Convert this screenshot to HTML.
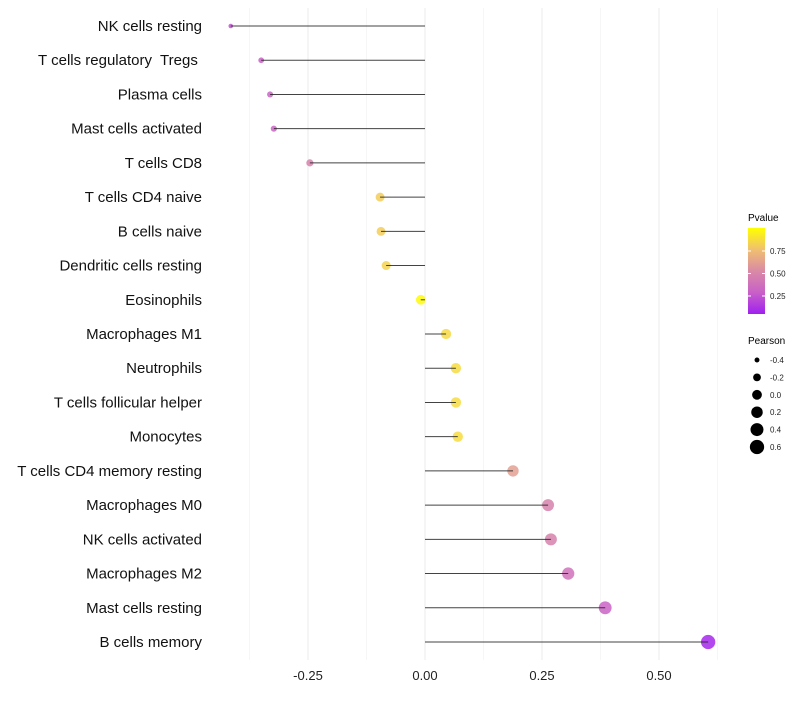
<!DOCTYPE html>
<html><head><meta charset="utf-8"><style>
body{margin:0;background:#fff;font-family:"Liberation Sans",Arial,sans-serif}
</style></head><body>
<svg id="chart" width="800" height="700" xmlns="http://www.w3.org/2000/svg">
<defs><linearGradient id="pg" x1="0" y1="1" x2="0" y2="0">
<stop offset="0" stop-color="#A020F0"/><stop offset="0.25" stop-color="#C860C8"/><stop offset="0.5" stop-color="#DA8AA5"/><stop offset="0.75" stop-color="#F0C070"/><stop offset="1" stop-color="#FFFF00"/></linearGradient></defs>
<g id="grid"></g><g id="dots"></g><g id="marks"></g><g id="labels"></g>
<g font-size="10">
<text x="748" y="221" font-size="10">Pvalue</text>
<rect x="748" y="228" width="17" height="86" fill="url(#pg)"/>
<g id="pticks"></g>
<text x="748" y="344" font-size="10">Pearson</text>
<g id="sizeleg"></g>
</g>
</svg>
<script>
const categories=["NK cells resting","T cells regulatory  Tregs ","Plasma cells","Mast cells activated","T cells CD8","T cells CD4 naive","B cells naive","Dendritic cells resting","Eosinophils","Macrophages M1","Neutrophils","T cells follicular helper","Monocytes","T cells CD4 memory resting","Macrophages M0","NK cells activated","Macrophages M2","Mast cells resting","B cells memory"];
const pearson=[-0.415,-0.35,-0.331,-0.323,-0.246,-0.096,-0.094,-0.083,-0.009,0.045,0.066,0.066,0.07,0.188,0.263,0.269,0.306,0.385,0.605];
const pvalues=[0.2,0.26,0.28,0.28,0.45,0.8,0.8,0.82,0.98,0.85,0.86,0.86,0.86,0.6,0.45,0.45,0.36,0.27,0.03];
const xTicks=[-0.25,0,0.25,0.5];
const xTickLabels=["-0.25","0.00","0.25","0.50"];
const pTicks=[0.25,0.5,0.75];
const pTickLabels=["0.25","0.50","0.75"];
const sizeLegend=[-0.4,-0.2,0,0.2,0.4,0.6];
const sizeLegendLabels=["-0.4","-0.2","0.0","0.2","0.4","0.6"];

const NS="http://www.w3.org/2000/svg";
const x=v=>425+v*468;
const y=i=>26+i*(616/18);
const r=v=>Math.sqrt(Math.max(1.8,24+45*v));
const py=p=>318.5-p*90;
const stops=[[0,[160,32,240]],[0.25,[200,96,200]],[0.5,[218,138,165]],[0.75,[240,192,112]],[1,[255,255,0]]];
function pcol(p){for(let k=0;k<stops.length-1;k++){const[a0,a]=stops[k],[b0,b]=stops[k+1];
 if(p<=b0||k==stops.length-2){const t=Math.max(0,Math.min(1,(p-a0)/(b0-a0)));return `rgb(${a.map((c,i)=>Math.round(c+(b[i]-c)*t)).join(',')})`;}}}
function mk(tag,attrs,parent){const e=document.createElementNS(NS,tag);for(const k in attrs)e.setAttribute(k,attrs[k]);parent.appendChild(e);return e;}
const grid=document.getElementById('grid'),dots=document.getElementById('dots'),marks=document.getElementById('marks'),labels=document.getElementById('labels');
for(let v=-0.375;v<=0.63;v+=0.125){
 const major=xTicks.some(t=>Math.abs(t-v)<1e-9);
 const l=mk('line',{x1:x(v),x2:x(v),y1:8,y2:660,stroke:major?'#ebebeb':'#f2f2f2','stroke-width':major?1:0.7},grid);
 
 
}
categories.forEach((c,i)=>{
 const d=mk('circle',{cx:x(pearson[i]),cy:y(i),r:r(pearson[i]),fill:pcol(pvalues[i]),'fill-opacity':0.85},dots);
 
 
 const l=mk('line',{x1:x(0),x2:x(pearson[i]),y1:y(i),y2:y(i),stroke:'#222','stroke-width':1,'stroke-opacity':0.85},marks);
 
 
 const t=mk('text',{x:202,y:y(i)+5,'text-anchor':'end','font-size':15,fill:'#111'},labels);
 t.setAttributeNS("http://www.w3.org/XML/1998/namespace","xml:space","preserve");
 t.style.whiteSpace='pre';
 t.textContent=c;
 
 
});
xTicks.forEach((v,i)=>{
 const t=mk('text',{x:x(v),y:680,'text-anchor':'middle','font-size':13,fill:'#222'},labels);
 t.textContent=xTickLabels[i];
 
 
});
const pt=document.getElementById('pticks');
pTicks.forEach((p,i)=>{
 mk('line',{x1:748,x2:751,y1:py(p),y2:py(p),stroke:'#fff'},pt);
 mk('line',{x1:762,x2:765,y1:py(p),y2:py(p),stroke:'#fff'},pt);
 const t=mk('text',{x:770,y:py(p)+3,'font-size':8,fill:'#222'},pt);
 t.textContent=pTickLabels[i];
 
 
});
const sl=document.getElementById('sizeleg');
sizeLegend.forEach((v,i)=>{
 const cy=360+i*17.4;
 const c=mk('circle',{cx:757,cy:cy,r:r(v),fill:'#000'},sl);
 
 
 const t=mk('text',{x:770,y:cy+3,'font-size':8,fill:'#222'},sl);
 t.textContent=sizeLegendLabels[i];
 
 
});
</script>
</body></html>
